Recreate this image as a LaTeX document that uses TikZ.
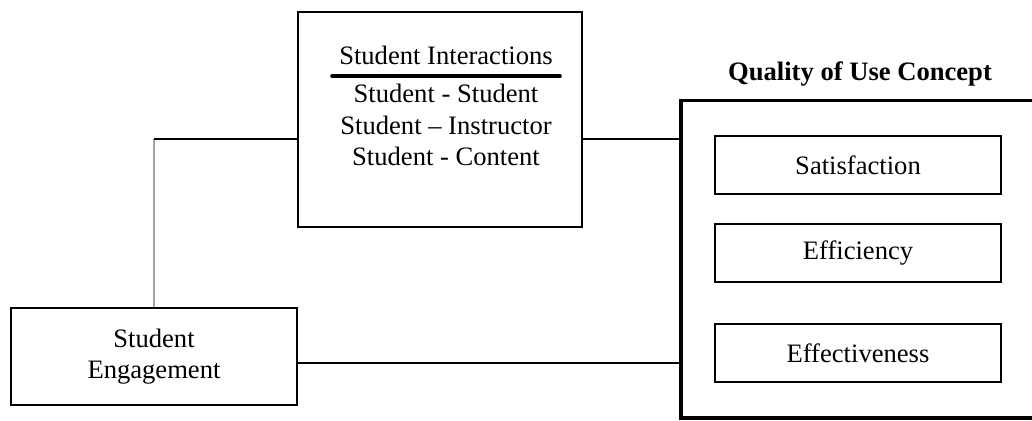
\documentclass[tikz,border=0pt]{standalone}
\usepackage{fontspec}
\setmainfont{Liberation Serif}
\usepackage{tikz}
\usetikzlibrary{positioning}

\begin{document}
\begin{tikzpicture}[
  x=0.5pt, y=-0.5pt,
  font=\fontsize{13.3}{15.6}\selectfont,
  box/.style={
    draw,
    line width=1pt,
    align=center,
    minimum width=143pt
  },
  inbox/.style={
    draw,
    line width=1pt,
    minimum width=143pt,
    minimum height=29pt
  },
  link/.style={line width=0.9pt}
]
  \useasboundingbox (0,0) rectangle (1032,421);
  \clip (0,0) rectangle (1032,421);

  \node[box, minimum width=142pt, minimum height=107.5pt] (inter) at (440,119.5) {};
  \node[anchor=base] (head) at (446,65) {Student Interactions};
  \draw[line width=2pt, line cap=round] ([yshift=-2pt]head.south west) -- ([yshift=-2pt]head.south east);
  \node[align=center, anchor=north, inner sep=0pt] (list) at (446,84) {Student - Student\\Student -- Instructor\\Student - Content};

  \node[box, minimum height=48.5pt] (eng) at (154,356.5) {Student\\Engagement};

  \node[draw, line width=1.6pt, minimum width=182pt, minimum height=158.75pt] (qou) at (863,259.25) {};
  \node[anchor=base, font=\fontsize{13.3}{15.6}\selectfont\bfseries] (qoutitle) at (860,81) {Quality of Use Concept};
  \node[inbox] (sat) at (858,165.5) {Satisfaction};
  \node[inbox, below=14pt of sat] (effic) {Efficiency};
  \node[inbox, below=20pt of effic] (effect) {Effectiveness};

  \coordinate (join) at ([yshift=-9.75pt]inter.west);
  \draw[link, gray!70, line width=0.6pt] (eng.north) -- (eng.north |- join);
  \draw[link] (eng.north |- join) -- (join);
  \draw[link] (join -| inter.east) -- (join -| qou.west);
  \draw[link] ([yshift=-3.25pt]eng.east) -- ([yshift=-3.25pt]eng.east -| qou.west);
\end{tikzpicture}
\end{document}
